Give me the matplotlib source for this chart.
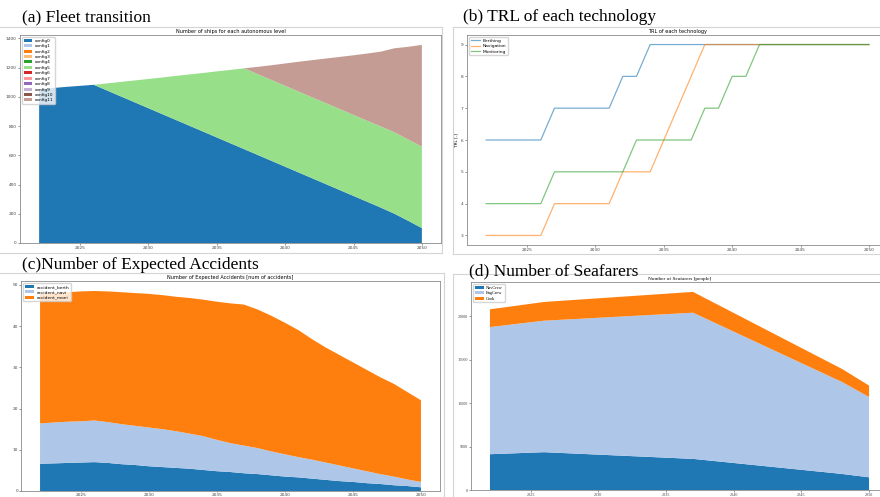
import numpy as np
import matplotlib.pyplot as plt
from matplotlib.lines import Line2D

years = np.arange(2022, 2051)

# (a) number of ships per configuration
config0 = [1052, 1060, 1068, 1075, 1082, 1042, 1002, 962, 922, 882, 842, 802, 762, 722, 682,
           642, 602, 562, 522, 482, 442, 402, 362, 322, 282, 242, 200, 152, 102]
config5 = [0, 0, 0, 0, 0, 50, 100, 150, 200, 250, 301, 351, 401, 452, 502,
           553, 553, 553, 553, 553, 553, 554, 554, 554, 554, 555, 557, 556, 557]
config11 = [0, 0, 0, 0, 0, 0, 0, 0, 0, 0, 0, 0, 0, 0, 0,
            0, 50, 101, 153, 205, 256, 306, 357, 408, 460, 512, 575, 634, 696]

# (b) TRL per technology
trl_berthing = [6, 6, 6, 6, 6, 7, 7, 7, 7, 7, 8, 8, 9, 9, 9, 9, 9, 9, 9, 9, 9, 9, 9, 9, 9, 9, 9, 9, 9]
trl_navigation = [3, 3, 3, 3, 3, 4, 4, 4, 4, 4, 5, 5, 5, 6, 7, 8, 9, 9, 9, 9, 9, 9, 9, 9, 9, 9, 9, 9, 9]
trl_monitoring = [4, 4, 4, 4, 4, 5, 5, 5, 5, 5, 5, 6, 6, 6, 6, 6, 7, 7, 8, 8, 9, 9, 9, 9, 9, 9, 9, 9, 9]

# (c) expected accidents
accident_berth = [6.6, 6.7, 6.8, 6.9, 7.0, 6.8, 6.5, 6.3, 6.0, 5.8, 5.6, 5.4, 5.1, 4.8, 4.6,
                  4.3, 4.1, 3.8, 3.5, 3.3, 3.0, 2.7, 2.4, 2.2, 1.9, 1.7, 1.4, 1.2, 0.9]
accident_navi = [9.8, 9.9, 10.0, 10.0, 10.1, 9.9, 9.7, 9.5, 9.4, 9.2, 8.9, 8.5, 8.2, 7.6, 7.0,
                 6.7, 6.3, 5.8, 5.4, 4.9, 4.6, 4.2, 3.8, 3.3, 2.9, 2.4, 2.1, 1.6, 1.3]
accident_moni = [31.4, 31.4, 31.4, 31.5, 31.4, 31.7, 32.0, 32.2, 32.4, 32.5, 32.6, 32.9, 33.1, 33.5, 33.9,
                 34.2, 33.6, 32.9, 31.9, 30.8, 29.2, 27.9, 26.8, 25.7, 24.6, 23.5, 22.5, 21.2, 19.8]

# (d) seafarers
nav_crew = [4115, 4170, 4230, 4290, 4346, 4276, 4206, 4136, 4066, 3996, 3926, 3856, 3786, 3716, 3646,
            3577, 3420, 3263, 3106, 2949, 2792, 2635, 2478, 2321, 2164, 2007, 1846, 1650, 1460]
eng_crew = [14615, 14740, 14870, 14990, 15114, 15269, 15424, 15574, 15729, 15884, 16034, 16189, 16344, 16494, 16649,
            16803, 16236, 15669, 15102, 14535, 13968, 13401, 12834, 12267, 11700, 11133, 10574, 9905, 9230]
cook = [2040, 2070, 2090, 2125, 2155, 2175, 2195, 2220, 2240, 2260, 2285, 2305, 2325, 2350, 2370,
        2390, 2309, 2228, 2147, 2066, 1985, 1904, 1823, 1742, 1661, 1580, 1500, 1405, 1310]

W, H = 880, 497
tab20 = plt.cm.tab20.colors
tab10 = plt.cm.tab10.colors


def rect(l, t, r, b):
    return [l / W, 1 - b / H, (r - l) / W, (b - t) / H]


def frame_line(x0, y0, x1, y1):
    fig.add_artist(Line2D([x0 / W, x1 / W], [1 - y0 / H, 1 - y1 / H],
                          color='#d4d4d4', lw=0.8))


def style(ax, family='DejaVu Sans', pad=1):
    ax.tick_params(labelsize=3.1, length=1.5, width=0.4, pad=pad, colors='#444444')
    ax.set_xticks([2025, 2030, 2035, 2040, 2045, 2050])
    for lab in ax.get_xticklabels() + ax.get_yticklabels():
        lab.set_family(family)
    for s in ax.spines.values():
        s.set_color('#8a8a8a')
        s.set_linewidth(0.6)


def small_legend(ax, family='DejaVu Sans', size=3.2, spacing=0.3):
    ax.legend(loc='upper left', prop={'size': size, 'family': family},
              handlelength=2, labelspacing=spacing, borderpad=0.35,
              handletextpad=0.6, framealpha=0.8)


fig = plt.figure(figsize=(W / 100, H / 100), dpi=100)

# screenshot frames
frame_line(0, 27, 442, 27)
frame_line(442, 27, 442, 253)
frame_line(0, 253, 442, 253)
frame_line(453, 27, 880, 27)
frame_line(453, 27, 453, 254)
frame_line(453, 254, 880, 254)
frame_line(0, 273, 444, 273)
frame_line(444, 273, 444, 497)
frame_line(453, 274, 880, 274)
frame_line(453, 274, 453, 497)

# (a)
ax1 = fig.add_axes(rect(20, 35, 441, 243))
ships = [np.zeros(len(years)) for _ in range(12)]
ships[0] = config0
ships[5] = config5
ships[11] = config11
ax1.stackplot(years, ships, colors=tab20[:12], labels=[f'config{i}' for i in range(12)])
ax1.set_title('Number of ships for each autonomous level', fontsize=3.6, pad=1.5)
ax1.set_yticks(range(0, 1401, 200))
style(ax1)
small_legend(ax1, size=3.1, spacing=0.33)

# (b)
ax2 = fig.add_axes(rect(467, 35, 888, 245))
ax2.plot(years, trl_berthing, color=tab10[0], alpha=0.6, lw=0.9, label='Berthing')
ax2.plot(years, trl_navigation, color=tab10[1], alpha=0.6, lw=0.9, label='Navigation')
ax2.plot(years, trl_monitoring, color=tab10[2], alpha=0.6, lw=0.9, label='Monitoring')
ax2.set_title('TRL of each technology', fontsize=3.6, pad=1.5)
ax2.set_ylabel('TRL [-]', fontsize=3.1, labelpad=2)
style(ax2)
small_legend(ax2)

# (c)
ax3 = fig.add_axes(rect(21, 281, 440, 491))
ax3.stackplot(years, accident_berth, accident_navi, accident_moni, colors=tab20[:3],
              labels=['accident_berth', 'accident_navi', 'accident_moni'])
ax3.set_title('Number of Expected Accidents [num of accidents]', fontsize=3.6, pad=1.5)
ax3.set_yticks(range(0, 51, 10))
style(ax3, pad=0.4)
ax3.tick_params(axis='x', length=1.0)
small_legend(ax3)

# (d)
ax4 = fig.add_axes(rect(471, 282, 888, 490))
ax4.stackplot(years, nav_crew, eng_crew, cook, colors=tab20[:3],
              labels=['NavCrew', 'EngCrew', 'Cook'])
ax4.set_title('Number of Seafarers [people]', fontsize=3.8, pad=1.5, family='Liberation Serif')
ax4.set_yticks(range(0, 20001, 5000))
style(ax4, 'Liberation Serif', pad=0.6)
small_legend(ax4, 'Liberation Serif')

# panel headings
head = dict(fontsize=12.5, family='Liberation Serif', va='center', ha='left')
fig.text(22 / W, 1 - 17 / H, '(a) Fleet transition', **head)
fig.text(463 / W, 1 - 17 / H, '(b) TRL of each technology', **head)
fig.text(22 / W, 1 - 265 / H, '(c)Number of Expected Accidents', **head)
fig.text(469 / W, 1 - 271 / H, '(d) Number of Seafarers', **head)

fig.savefig('out.png', dpi=100)
